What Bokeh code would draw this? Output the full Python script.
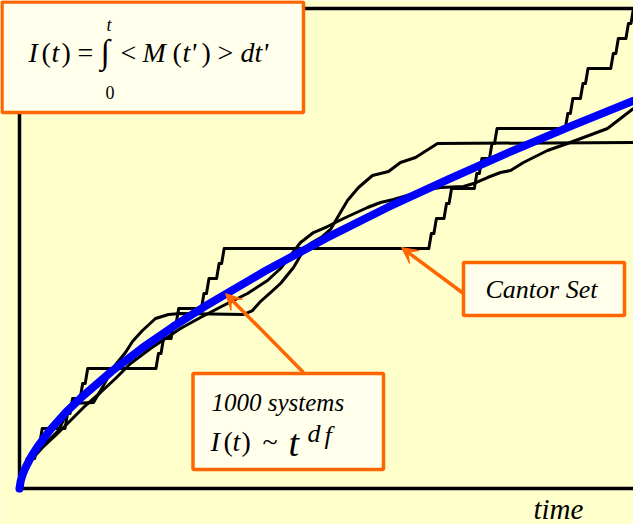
from bokeh.plotting import figure
from bokeh.models import Range1d, BoxAnnotation, Label, Arrow, VeeHead
from bokeh.embed import file_html
from bokeh.resources import INLINE

# ---------------- data ----------------
# One system: Cantor staircase. Plateau start/end in units of 1/243 of the
# time window, plateau level in units of 1/32 of the full rise.
cantor_start = [1, 3, 7, 9, 19, 21, 25, 27, 55, 57, 61, 63, 73, 75, 79, 81,
                163, 165, 169, 171, 181, 183, 187, 189, 217, 219, 223, 225,
                235, 237, 241]
cantor_end = [2, 6, 8, 18, 20, 24, 26, 54, 56, 60, 62, 72, 74, 78, 80, 162,
              164, 168, 170, 180, 182, 186, 188, 216, 218, 222, 224, 234,
              236, 240, 242]
cantor_level = [1, 2, 3, 4, 5, 6, 7, 8, 9, 10, 11, 12, 13, 14, 15, 16,
                17, 18, 19, 20, 21, 22, 23, 24, 25, 26, 27, 28, 29, 30, 31]

# Few systems averaged (time and I(t) in % of the window)
few_t = [0, 0.98, 2.28, 4.23, 6.35, 7.49, 8.63, 12.05, 13.68, 15.15, 17.26,
         18.40, 20.03, 22.15, 24.27, 26.22, 36.48, 37.95, 39.25, 40.88, 42.51,
         44.63, 45.77, 47.39, 49.35, 50.65, 51.79, 53.42, 55.21, 57.49, 60.10,
         62.05, 64.50, 68.08, 100]
few_I = [0, 3.75, 6.88, 9.38, 12.08, 15.21, 17.71, 17.92, 21.46, 25.0, 28.33,
         30.63, 32.92, 35.42, 36.25, 36.46, 36.25, 37.08, 38.96, 40.83, 42.71,
         46.04, 48.54, 51.04, 52.50, 53.96, 56.46, 60.0, 62.71, 65.21, 66.04,
         67.92, 68.96, 71.88, 72.08]

# More systems averaged
more_t = [0, 0.81, 2.12, 3.75, 5.86, 8.31, 10.75, 13.19, 15.64, 18.08, 21.34,
          23.78, 26.22, 29.48, 33.22, 37.13, 40.39, 42.51, 44.14, 45.77, 47.88,
          50.16, 52.77, 56.68, 58.79, 60.91, 63.68, 66.45, 68.57, 72.31, 73.94,
          76.22, 78.34, 79.97, 82.08, 85.99, 89.25, 91.86, 95.77, 97.88, 100]
more_I = [0, 3.33, 6.25, 8.54, 11.04, 14.17, 17.29, 20.0, 22.92, 26.04, 29.17,
          31.25, 33.33, 35.63, 38.13, 40.63, 43.33, 45.83, 48.54, 51.25, 53.33,
          54.58, 56.25, 58.54, 59.58, 60.21, 61.25, 62.29, 62.71, 62.92, 63.54,
          64.79, 65.83, 66.25, 67.92, 70.42, 71.88, 73.13, 75.0, 77.08, 79.17]

# 1000 systems averaged
avg_t = [0, 0.2, 0.5, 1, 2, 3, 5, 7.5, 10, 15, 20, 25, 30, 40, 50, 60, 70, 80,
         90, 100]
avg_I = [0, 1.6, 2.85, 4.42, 6.85, 8.84, 12.2, 15.8, 18.9, 24.4, 29.3, 33.7,
         37.8, 45.3, 52.2, 58.6, 64.5, 70.2, 75.6, 80.8]

# ---------------- styling ----------------
BG = "#FFFFCC"
BOX_FILL = "#FFFFEB"
ORANGE = "#FF6600"
SERIF = "Liberation Serif"

W, H = 633, 524
# axes box in canvas pixels: left 19, right 633, top 8, bottom 488
FL, FR, FT, FB = 19, 633, 8, 488
SX = (FR - FL) / 100.0
SY = (FB - FT) / 100.0


def at(px, py):
    """Canvas pixel position -> data coordinates (for annotations)."""
    return ((px - FL) / SX, (FB - py) / SY)


# the plotting area covers the whole canvas so that the boxes and the
# caption can sit outside the axes box
p = figure(width=W, height=H,
           x_range=Range1d(-FL / SX, (W - FL) / SX),
           y_range=Range1d((FB - H) / SY, FB / SY),
           output_backend="svg", toolbar_location=None,
           x_axis_location=None, y_axis_location=None, min_border=0)
p.background_fill_color = BG
p.border_fill_color = BG
p.outline_line_color = None
p.grid.visible = False

# axes box: top, left and bottom edges
p.line([100, 0, 0, 100], [100, 100, 0, 0], line_color="black",
       line_width=3.5, line_join="miter")

# Cantor staircase path
cx, cy = [0.0], [0.0]
for s, e, lv in zip(cantor_start, cantor_end, cantor_level):
    cx += [s * 100.0 / 243, e * 100.0 / 243]
    cy += [lv * 100.0 / 32, lv * 100.0 / 32]
cx.append(100.0)
cy.append(100.0)

p.line(cx, cy, line_color="black", line_width=3, line_join="round")
p.line(few_t, few_I, line_color="black", line_width=3, line_join="round")
p.line(more_t, more_I, line_color="black", line_width=3, line_join="round")
p.line(avg_t, avg_I, line_color="#0000FF", line_width=8, line_join="round",
       line_cap="round")


def box(x0, y0, x1, y1):
    l, t = at(x0, y0)
    r, b = at(x1, y1)
    p.add_layout(BoxAnnotation(left=l, right=r, top=t, bottom=b,
                               fill_color=BOX_FILL, fill_alpha=1,
                               line_color=ORANGE, line_width=3.5,
                               line_alpha=1))


def txt(s, px, py, size, italic=True):
    # py is the wanted baseline; labels sit ~0.32 em lower than asked
    x, y = at(px, py - 0.32 * size)
    p.add_layout(Label(x=x, y=y, text=s, text_font=SERIF,
                       text_font_size=f"{size}px",
                       text_font_style="italic" if italic else "normal",
                       text_color="black", text_align="left",
                       text_baseline="alphabetic"))


def arrow(px0, py0, px1, py1):
    x0, y0 = at(px0, py0)
    x1, y1 = at(px1, py1)
    p.add_layout(Arrow(end=VeeHead(size=16, fill_color=ORANGE,
                                   line_color=ORANGE),
                       x_start=x0, y_start=y0, x_end=x1, y_end=y1,
                       line_color=ORANGE, line_width=3.5))


# arrows
arrow(463, 293, 401, 247)
arrow(303, 372, 225, 293)

# formula box
box(1.5, 1.5, 303, 112)
txt("I", 28, 61, 28)
txt("(", 41, 61, 28, False)
txt("t", 51, 61, 28)
txt(")", 61, 61, 28, False)
txt("=", 77, 61, 28, False)
txt("\u222B", 100, 62, 34, False)
txt("t", 106, 30, 18)
txt("0", 105, 98, 18, False)
txt("<", 120, 61, 28, False)
txt("M", 142, 61, 28)
txt("(", 172, 61, 28, False)
txt("t'", 182, 61, 28)
txt(")", 201, 61, 28, False)
txt(">", 217, 61, 28, False)
txt("dt'", 240, 61, 28)

# Cantor set box
box(463, 262, 624, 315)
txt("Cantor Set", 485, 297, 26)

# averaged systems box
box(192.5, 373, 383, 469)
txt("1000 systems", 211, 410, 25)
txt("I", 210, 450, 28)
txt("(", 223, 450, 28, False)
txt("t", 232, 450, 28)
txt(")", 241, 450, 28, False)
txt("~", 262, 450, 28, False)
txt("t", 288, 455, 38)
txt("d", 307, 441, 26)
txt("f", 324, 443, 26)

# axis caption
txt("time", 533, 518, 29)

open("out.html", "w").write(file_html(p, INLINE))
